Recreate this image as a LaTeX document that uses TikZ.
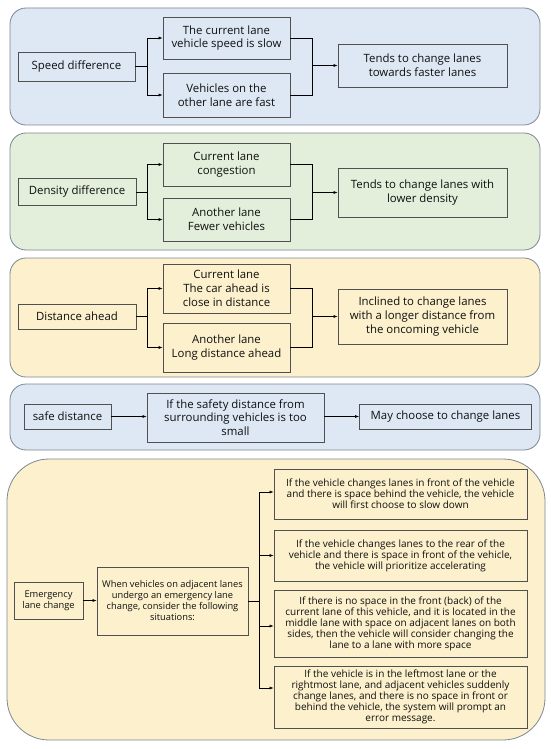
\documentclass[tikz,border=0pt]{standalone}
\usepackage{fontspec}
\setmainfont{Open Sans}
\usetikzlibrary{arrows.meta,calc}
\definecolor{pblue}{RGB}{222,232,245}
\definecolor{pgreen}{RGB}{227,239,219}
\definecolor{pcream}{RGB}{252,241,204}
\definecolor{pborder}{RGB}{125,135,148}
\definecolor{bborder}{RGB}{80,80,80}
\definecolor{txt}{RGB}{15,15,15}
\tikzset{
  panel/.style={draw=pborder, line width=0.8pt, rounded corners=16pt},
  bx/.style={draw=bborder, line width=0.8pt, align=center, inner sep=0pt, text=txt,
     font=\fontsize{11.4}{13.8}\selectfont},
  sbx/.style={draw=bborder, line width=0.8pt, align=center, inner sep=0pt, text=txt,
     font=\fontsize{10}{11}\selectfont},
  mbx/.style={draw=bborder, line width=0.8pt, align=center, inner sep=0pt, text=txt,
     font=\fontsize{9.3}{11}\selectfont},
  ln/.style={draw=black, line width=0.6pt},
  arr/.style={ln, -{Latex[length=4pt,width=3pt]}},
}
\begin{document}
\begin{tikzpicture}[x=1pt,y=-1pt]
\useasboundingbox[fill=white] (0,0) rectangle (550,749);
% panels
\path[panel, fill=pblue] (10,8) rectangle (540,125);
\path[panel, fill=pgreen] (10,133) rectangle (540,250);
\path[panel, fill=pcream] (10,258) rectangle (540,377);
\path[panel, fill=pblue] (10,384) rectangle (540,450);
\path[panel, fill=pcream, rounded corners=42pt] (7,459) rectangle (545,740);

% ---- panel 1
\node[bx, fill=pblue, minimum width=117pt, minimum height=29pt] (sd) at (76.5,66.5) {Speed difference};
\node[bx, fill=pblue, minimum width=127pt, minimum height=42pt] (t1) at (226.5,38) {The current lane\\vehicle speed is slow};
\node[bx, fill=pblue, minimum width=127pt, minimum height=44pt] (t2) at (226.5,95) {Vehicles on the\\other lane are fast};
\node[bx, fill=pblue, minimum width=169pt, minimum height=43pt] (r1) at (422.5,65.5) {Tends to change lanes\\towards faster lanes};
\coordinate (sp1) at (147,66.5);
\coordinate (mg1) at (312,65.5);
\draw[ln] (sd.east) -- (sp1);
\draw[arr] (sp1) |- (t1.west);
\draw[arr] (sp1) |- (t2.west);
\draw[ln] (t1.east) -| (mg1);
\draw[ln] (t2.east) -| (mg1);
\draw[arr] (mg1) -- (r1.west);

% ---- panel 2
\node[bx, fill=pgreen, minimum width=118pt, minimum height=27pt] (dd) at (77,192) {Density difference};
\node[bx, fill=pgreen, minimum width=127pt, minimum height=43pt] (c1) at (226.5,164.5) {Current lane\\congestion};
\node[bx, fill=pgreen, minimum width=127pt, minimum height=43pt] (c2) at (226.5,219.5) {Another lane\\Fewer vehicles};
\node[bx, fill=pgreen, minimum width=169pt, minimum height=49pt] (r2) at (422.5,192.5) {Tends to change lanes with\\lower density};
\coordinate (sp2) at (147,192);
\coordinate (mg2) at (312,192.5);
\draw[ln] (dd.east) -- (sp2);
\draw[arr] (sp2) |- (c1.west);
\draw[arr] (sp2) |- (c2.west);
\draw[ln] (c1.east) -| (mg2);
\draw[ln] (c2.east) -| (mg2);
\draw[arr] (mg2) -- (r2.west);

% ---- panel 3
\node[bx, fill=pcream, minimum width=118pt, minimum height=25pt] (da) at (77,316.5) {Distance ahead};
\node[bx, fill=pcream, minimum width=127pt, minimum height=49pt] (d1) at (226.5,288.5) {Current lane\\The car ahead is\\close in distance};
\node[bx, fill=pcream, minimum width=127pt, minimum height=49pt] (d2) at (226.5,347.5) {Another lane\\Long distance ahead};
\node[bx, fill=pcream, minimum width=169pt, minimum height=55pt] (r3) at (422.5,316.5) {Inclined to change lanes\\with a longer distance from\\the oncoming vehicle};
\coordinate (sp3) at (147,316.5);
\coordinate (mg3) at (312,316.5);
\draw[ln] (da.east) -- (sp3);
\draw[arr] (sp3) |- (d1.west);
\draw[arr] (sp3) |- (d2.west);
\draw[ln] (d1.east) -| (mg3);
\draw[ln] (d2.east) -| (mg3);
\draw[arr] (mg3) -- (r3.west);

% ---- panel 4
\node[bx, fill=pblue, minimum width=87pt, minimum height=25pt] (sfd) at (67.5,416.5) {safe distance};
\node[bx, fill=pblue, minimum width=177pt, minimum height=49pt] (sm) at (235.5,417.5) {If the safety distance from\\surrounding vehicles is too\\small};
\node[bx, fill=pblue, minimum width=172pt, minimum height=25pt] (mc) at (445.5,416.5) {May choose to change lanes};
\draw[arr] (sfd.east) -- (sm.west |- sfd.east);
\draw[arr] (sm.east |- mc.west) -- (mc.west);

% ---- panel 5
\node[mbx, fill=pcream, minimum width=69pt, minimum height=37pt] (em) at (48.5,600.5) {Emergency\\lane change};
\node[mbx, fill=pcream, minimum width=151pt, minimum height=68pt] (wv) at (172.5,601) {When vehicles on adjacent lanes\\undergo an emergency lane\\change, consider the following\\situations:};
\node[sbx, fill=pcream, minimum width=253pt, minimum height=50pt] (b1) at (400.5,494) {If the vehicle changes lanes in front of the vehicle\\and there is space behind the vehicle, the vehicle\\will first choose to slow down};
\node[sbx, fill=pcream, minimum width=253pt, minimum height=51pt] (b2) at (400.5,555.5) {If the vehicle changes lanes to the rear of the\\vehicle and there is space in front of the vehicle,\\the vehicle will prioritize accelerating};
\node[sbx, fill=pcream, minimum width=253pt, minimum height=67pt] (b3) at (400.5,623.5) {If there is no space in the front (back) of the\\current lane of this vehicle, and it is located in the\\middle lane with space on adjacent lanes on both\\sides, then the vehicle will consider changing the\\lane to a lane with more space};
\node[sbx, fill=pcream, minimum width=253pt, minimum height=62pt] (b4) at (400.5,697) {If the vehicle is in the leftmost lane or the\\rightmost lane, and adjacent vehicles suddenly\\change lanes, and there is no space in front or\\behind the vehicle, the system will prompt an\\error message.};
\coordinate (sp5) at (259,601);
\draw[arr] (em.east) -- (wv.west |- em.east);
\draw[ln] (wv.east) -- (sp5);
\draw[arr] (sp5) |- ([yshift=2pt]b1.west);
\draw[arr] (sp5) |- (b2.west);
\draw[arr] (sp5) |- ([yshift=-2.5pt]b3.west);
\draw[arr] (sp5) |- ([yshift=9pt]b4.west);
\end{tikzpicture}
\end{document}
